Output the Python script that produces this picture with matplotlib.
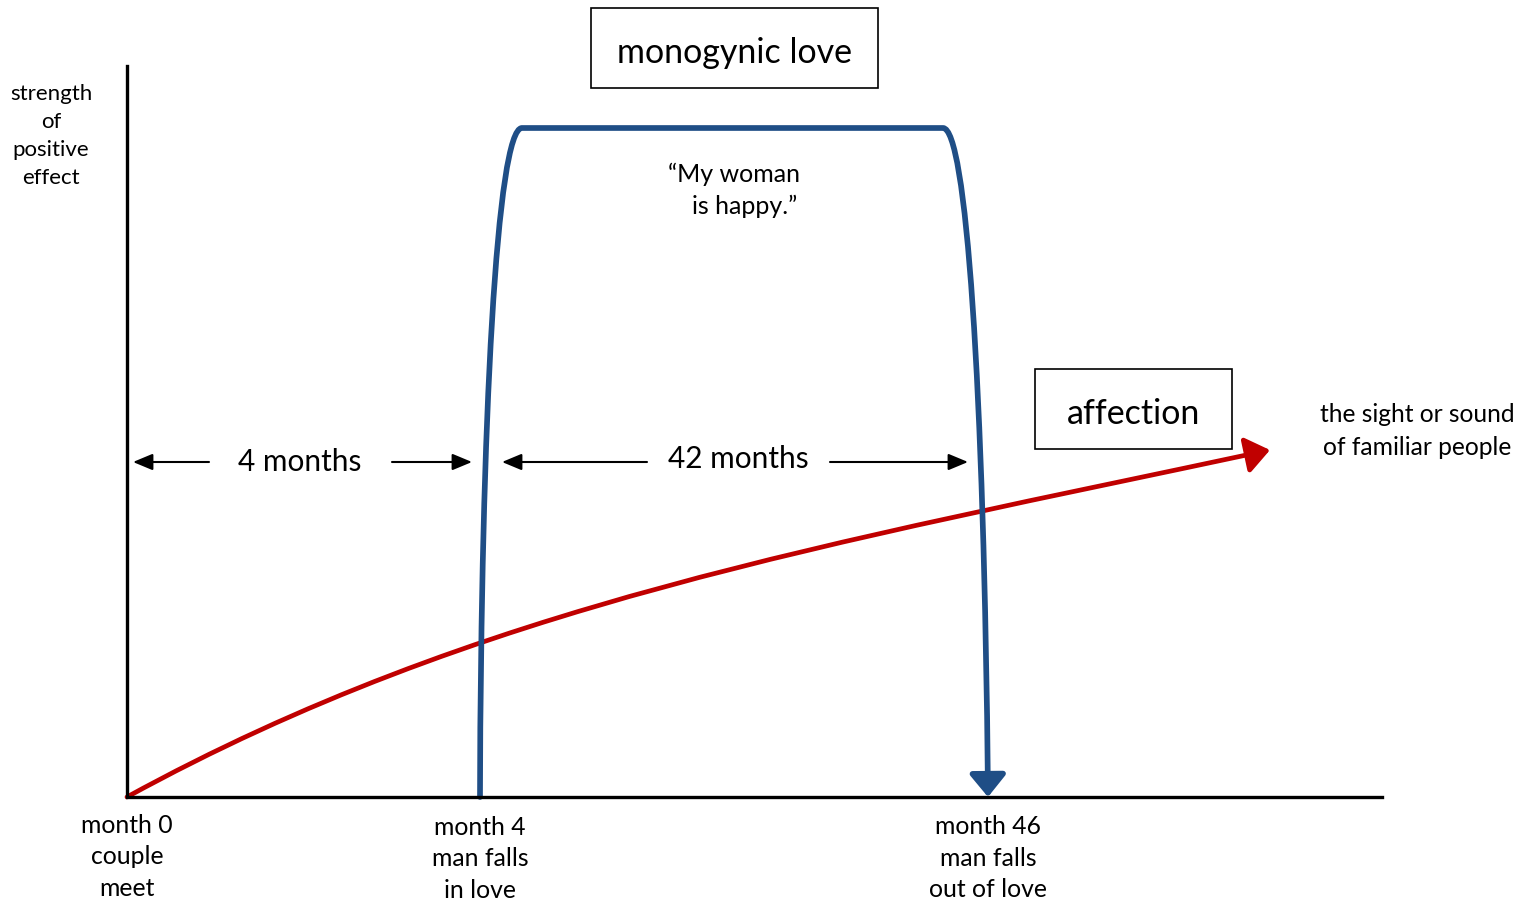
import matplotlib.pyplot as plt
from matplotlib.path import Path
from matplotlib.patches import FancyArrowPatch, Rectangle

# Font parecida a Calibri
plt.rcParams['font.family'] = ['Lato', 'DejaVu Sans']

# Coordenadas del diagrama (en pixeles de la imagen, eje y hacia abajo)
axis_x = [127, 127, 1382]
axis_y = [66, 797, 797]

# Curva roja (affection): puntos de control bezier, termina en la punta de flecha
red_pts = [(127, 797), (477, 605), (830, 544), (1270, 450)]

# Curva azul (monogynic love): subida, meseta y bajada hasta la flecha
blue_pts = [(480, 797), (481, 420), (497, 128), (522, 128),
            (943, 128),
            (966, 128), (984, 380), (988, 797)]
blue_codes = [Path.MOVETO, Path.CURVE4, Path.CURVE4, Path.CURVE4,
              Path.LINETO,
              Path.CURVE4, Path.CURVE4, Path.CURVE4]

# Flechas de duracion: (texto, x, y, inicio flecha izq, fin izq, inicio der, fin der)
spans = [("4 months", 300, 462, 209, 133, 392, 472),
         ("42 months", 738, 459, 647, 502, 830, 968)]

# Etiquetas del eje x
bottom_labels = [("month 0\ncouple\nmeet", 127, 857),
                 ("month 4\nman falls\nin love", 480, 859),
                 ("month 46\nman falls\nout of love", 988, 858)]

red = "#c00000"
blue = "#1f4e86"

fig = plt.figure(figsize=(15.31, 9.02), dpi=100)
ax = fig.add_axes([0, 0, 1, 1])
ax.set_xlim(0, 1531)
ax.set_ylim(902, 0)
ax.axis("off")

# Ejes
ax.plot(axis_x, axis_y, color="black", lw=2.4, solid_joinstyle="miter")

# Curva roja con flecha
red_path = Path(red_pts, [Path.MOVETO, Path.CURVE4, Path.CURVE4, Path.CURVE4])
ax.add_patch(FancyArrowPatch(path=red_path, arrowstyle="-|>,head_length=1.45,head_width=1.1",
                             mutation_scale=10, color=red, lw=3.4))

# Curva azul con flecha
blue_path = Path(blue_pts, blue_codes)
ax.add_patch(FancyArrowPatch(path=blue_path, arrowstyle="-|>,head_length=1.35,head_width=1.1",
                             mutation_scale=10, color=blue, lw=4.1, joinstyle="round"))

# Flechas de meses
for label, tx, ty, l0, l1, r0, r1 in spans:
    ax.text(tx, ty, label, ha="center", va="center", fontsize=21.5)
    for a, b in [(l0, l1), (r0, r1)]:
        ax.annotate("", xy=(b, 462), xytext=(a, 462),
                    arrowprops=dict(arrowstyle="-|>,head_length=1.2,head_width=0.5",
                                    color="black", lw=1.5, shrinkA=0, shrinkB=0))

# Cajas de titulo
ax.add_patch(Rectangle((591, 8), 287, 80, fill=False, ec="black", lw=1.2))
ax.text(734.5, 53, "monogynic love", ha="center", va="center", fontsize=24.5)
ax.add_patch(Rectangle((1035, 369), 197, 80, fill=False, ec="black", lw=1.2))
ax.text(1133.5, 414, "affection", ha="center", va="center", fontsize=24.5)

# Textos
ax.text(51, 136, "strength\nof\npositive\neffect", ha="center", va="center",
        fontsize=16, linespacing=1.48)
ax.text(1417, 431, "the sight or sound\nof familiar people", ha="center", va="center",
        fontsize=17.7, linespacing=1.48)
ax.text(668, 174, "\u201cMy woman", ha="left", va="center", fontsize=18)
ax.text(692, 206, "is happy.\u201d", ha="left", va="center", fontsize=18)

for label, lx, ly in bottom_labels:
    ax.text(lx, ly, label, ha="center", va="center", fontsize=17.8, linespacing=1.46)

fig.savefig("out.png", dpi=100)
